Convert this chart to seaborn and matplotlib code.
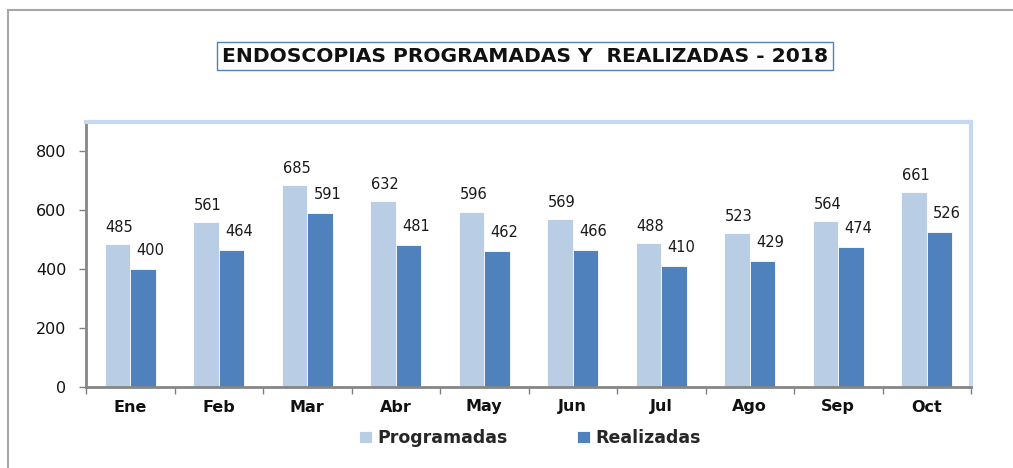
import matplotlib
matplotlib.use("Agg")
import matplotlib.pyplot as plt
import numpy as np
import pandas as pd
import seaborn as sns
from matplotlib.patches import Rectangle

# Monthly endoscopy counts, 2018
months = ["Ene", "Feb", "Mar", "Abr", "May", "Jun", "Jul", "Ago", "Sep", "Oct"]
programadas = [485, 561, 685, 632, 596, 569, 488, 523, 564, 661]
realizadas = [400, 464, 591, 481, 462, 466, 410, 429, 474, 526]
series = ["Programadas", "Realizadas"]
y_ticks = [0, 200, 400, 600, 800]

COLORS = {"Programadas": "#B9CDE5", "Realizadas": "#4F81BD"}

df = pd.DataFrame({
    "mes": months * 2,
    "serie": [series[0]] * len(months) + [series[1]] * len(months),
    "valor": programadas + realizadas,
})

sns.set_theme(style="white")
plt.rcParams["font.family"] = ["DejaVu Sans"]

fig = plt.figure(figsize=(10.13, 4.68), dpi=100)
ax = fig.add_axes([86 / 1013, 1 - 387 / 468, 885 / 1013, 265 / 468])

sns.barplot(data=df, x="mes", y="valor", hue="serie", order=months,
            hue_order=series, palette=COLORS, saturation=1, width=0.58, gap=0,
            edgecolor="white", linewidth=0.6, ax=ax, legend=True)

# value labels, nudged right like the source
for cont, dx, dy in zip(ax.containers, [1.5, 5.5], [6.5, 8]):
    for bar in cont:
        h = bar.get_height()
        ax.annotate(f"{h:.0f}", (bar.get_x() + bar.get_width() / 2, h),
                    xytext=(dx, dy), textcoords="offset points",
                    ha="center", va="bottom", fontsize=10.5, color="#1a1a1a")

ax.set_ylim(0, 900)
ax.set_xlim(-0.5, len(months) - 0.5)
ax.set_yticks(y_ticks)
ax.set_xlabel(""); ax.set_ylabel("")
ax.tick_params(axis="y", labelsize=11.5, length=5, width=1, color="#808080",
               direction="out", left=True, pad=9, labelcolor="#111111")
ax.tick_params(axis="x", which="major", length=0, pad=9)
for lab in ax.get_xticklabels():
    lab.set_fontweight("bold"); lab.set_fontsize(11.5); lab.set_color("#111111")
ax.set_xticks(np.arange(-0.5, len(months)), minor=True)
ax.tick_params(axis="x", which="minor", length=5, width=1, color="#808080",
               direction="out", bottom=True)

for side in ["left", "bottom"]:
    ax.spines[side].set_color("#868686"); ax.spines[side].set_linewidth(2)
for side in ["top", "right"]:
    ax.spines[side].set_color("#C6D9F1"); ax.spines[side].set_linewidth(3)

handles, labels = ax.get_legend_handles_labels()
ax.get_legend().remove()
fig.legend(handles, labels, loc="center", bbox_to_anchor=(530 / 1013, 1 - 438 / 468),
           ncol=2, frameon=False, handlelength=0.75, handleheight=0.75,
           handletextpad=0.3, columnspacing=4.0,
           prop={"weight": "bold", "size": 12.5})

fig.text(525 / 1013, 1 - 56 / 468, "ENDOSCOPIAS PROGRAMADAS Y  REALIZADAS - 2018",
         ha="center", va="center", fontsize=14.6, fontweight="bold", color="#111111",
         bbox=dict(boxstyle="square,pad=0.22", facecolor="white",
                   edgecolor="#4F81BD", linewidth=1))

# outer chart frame (clipped at right/bottom in the source)
fig.patches.append(Rectangle((8 / 1013, -0.2), 1.2, 1.2 - 10 / 468,
                             transform=fig.transFigure, fill=False,
                             edgecolor="#A6A6A6", linewidth=1.5))

fig.savefig("out.png", dpi=100)
